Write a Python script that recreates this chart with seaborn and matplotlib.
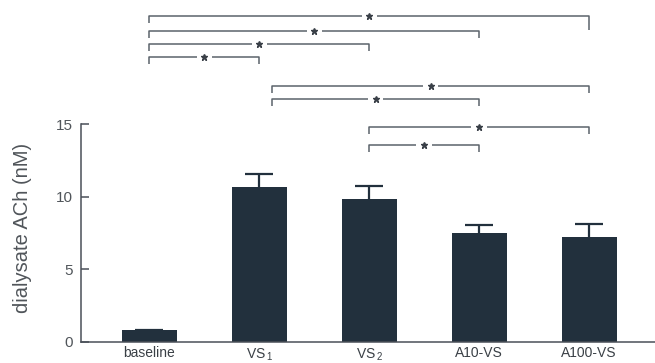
import matplotlib
matplotlib.use("Agg")
import matplotlib.pyplot as plt
import numpy as np
import pandas as pd
import seaborn as sns

# data
groups = ["baseline", "VS$_{\\,1}$", "VS$_{\\,2}$", "A10-VS", "A100-VS"]
ach_mean = [0.83, 10.65, 9.86, 7.48, 7.25]
ach_sem = [0.0, 0.95, 0.90, 0.57, 0.87]

# significance brackets: (left group, right group), level in nM units
pairs = [(0, 4), (0, 3), (0, 2), (0, 1), (1, 4), (1, 3), (2, 4), (2, 3)]
levels = [22.45, 21.4, 20.5, 19.6, 17.6, 16.7, 14.8, 13.55]

bar_color = "#22303d"
line_color = "#5b636b"
text_color = "#50555a"

sns.set_theme(style="ticks")
plt.rcParams["font.family"] = ["Liberation Sans", "DejaVu Sans"]
plt.rcParams["mathtext.fontset"] = "custom"
plt.rcParams["mathtext.rm"] = "Liberation Sans"

fig = plt.figure(figsize=(6.55, 3.63), dpi=100)
ax = fig.add_axes([0.124, 0.058, 0.876, 0.928])

df = pd.DataFrame({"group": groups, "ach": ach_mean})
sns.barplot(data=df, x="group", y="ach", color=bar_color, saturation=1,
            width=0.5, errorbar=None, linewidth=0, ax=ax)

# upper-only error bars
eb = ax.errorbar(np.arange(len(groups)), ach_mean,
                 yerr=[np.zeros(len(groups)), ach_sem],
                 fmt="none", ecolor=bar_color, elinewidth=1.6, capsize=10,
                 capthick=1.6)
eb[1][0].remove()

# brackets with asterisks
for (a, b), lev in zip(pairs, levels):
    xa = a + (0.12 if a == 1 else 0.0)
    xb = b
    mid = (xa + xb) / 2
    gap = 0.07
    drop_r = 0.95 if (a, b) == (0, 4) else 0.45
    ax.plot([xa, xa, mid - gap], [lev - 0.45, lev, lev],
            color=line_color, lw=1.1, solid_capstyle="butt")
    ax.plot([mid + gap, xb, xb], [lev, lev, lev - drop_r],
            color=line_color, lw=1.1, solid_capstyle="butt")
    ax.plot([mid], [lev], marker="*", ms=5, color="#3a4048", mec="#3a4048")

ax.set_xlim(-0.62, 4.6)
ax.set_ylim(0, 23.2)
ax.set_yticks([0, 5, 10, 15])
ax.spines["left"].set_bounds(0, 15)
for s in ["top", "right"]:
    ax.spines[s].set_visible(False)
for s in ["left", "bottom"]:
    ax.spines[s].set_color("#4a5058")
    ax.spines[s].set_linewidth(1.1)
ax.tick_params(axis="y", direction="in", length=6, width=1.1,
               color="#4a5058", labelsize=11, labelcolor=text_color, pad=6)
ax.tick_params(axis="x", length=0, labelsize=10, labelcolor="#3a4046", pad=3)
ax.set_xlabel("")
ax.set_ylabel("dialysate ACh (nM)", fontsize=14.5, color=text_color)
ax.yaxis.set_label_coords(-0.086, 0.338)

fig.savefig("out.png", dpi=100)
